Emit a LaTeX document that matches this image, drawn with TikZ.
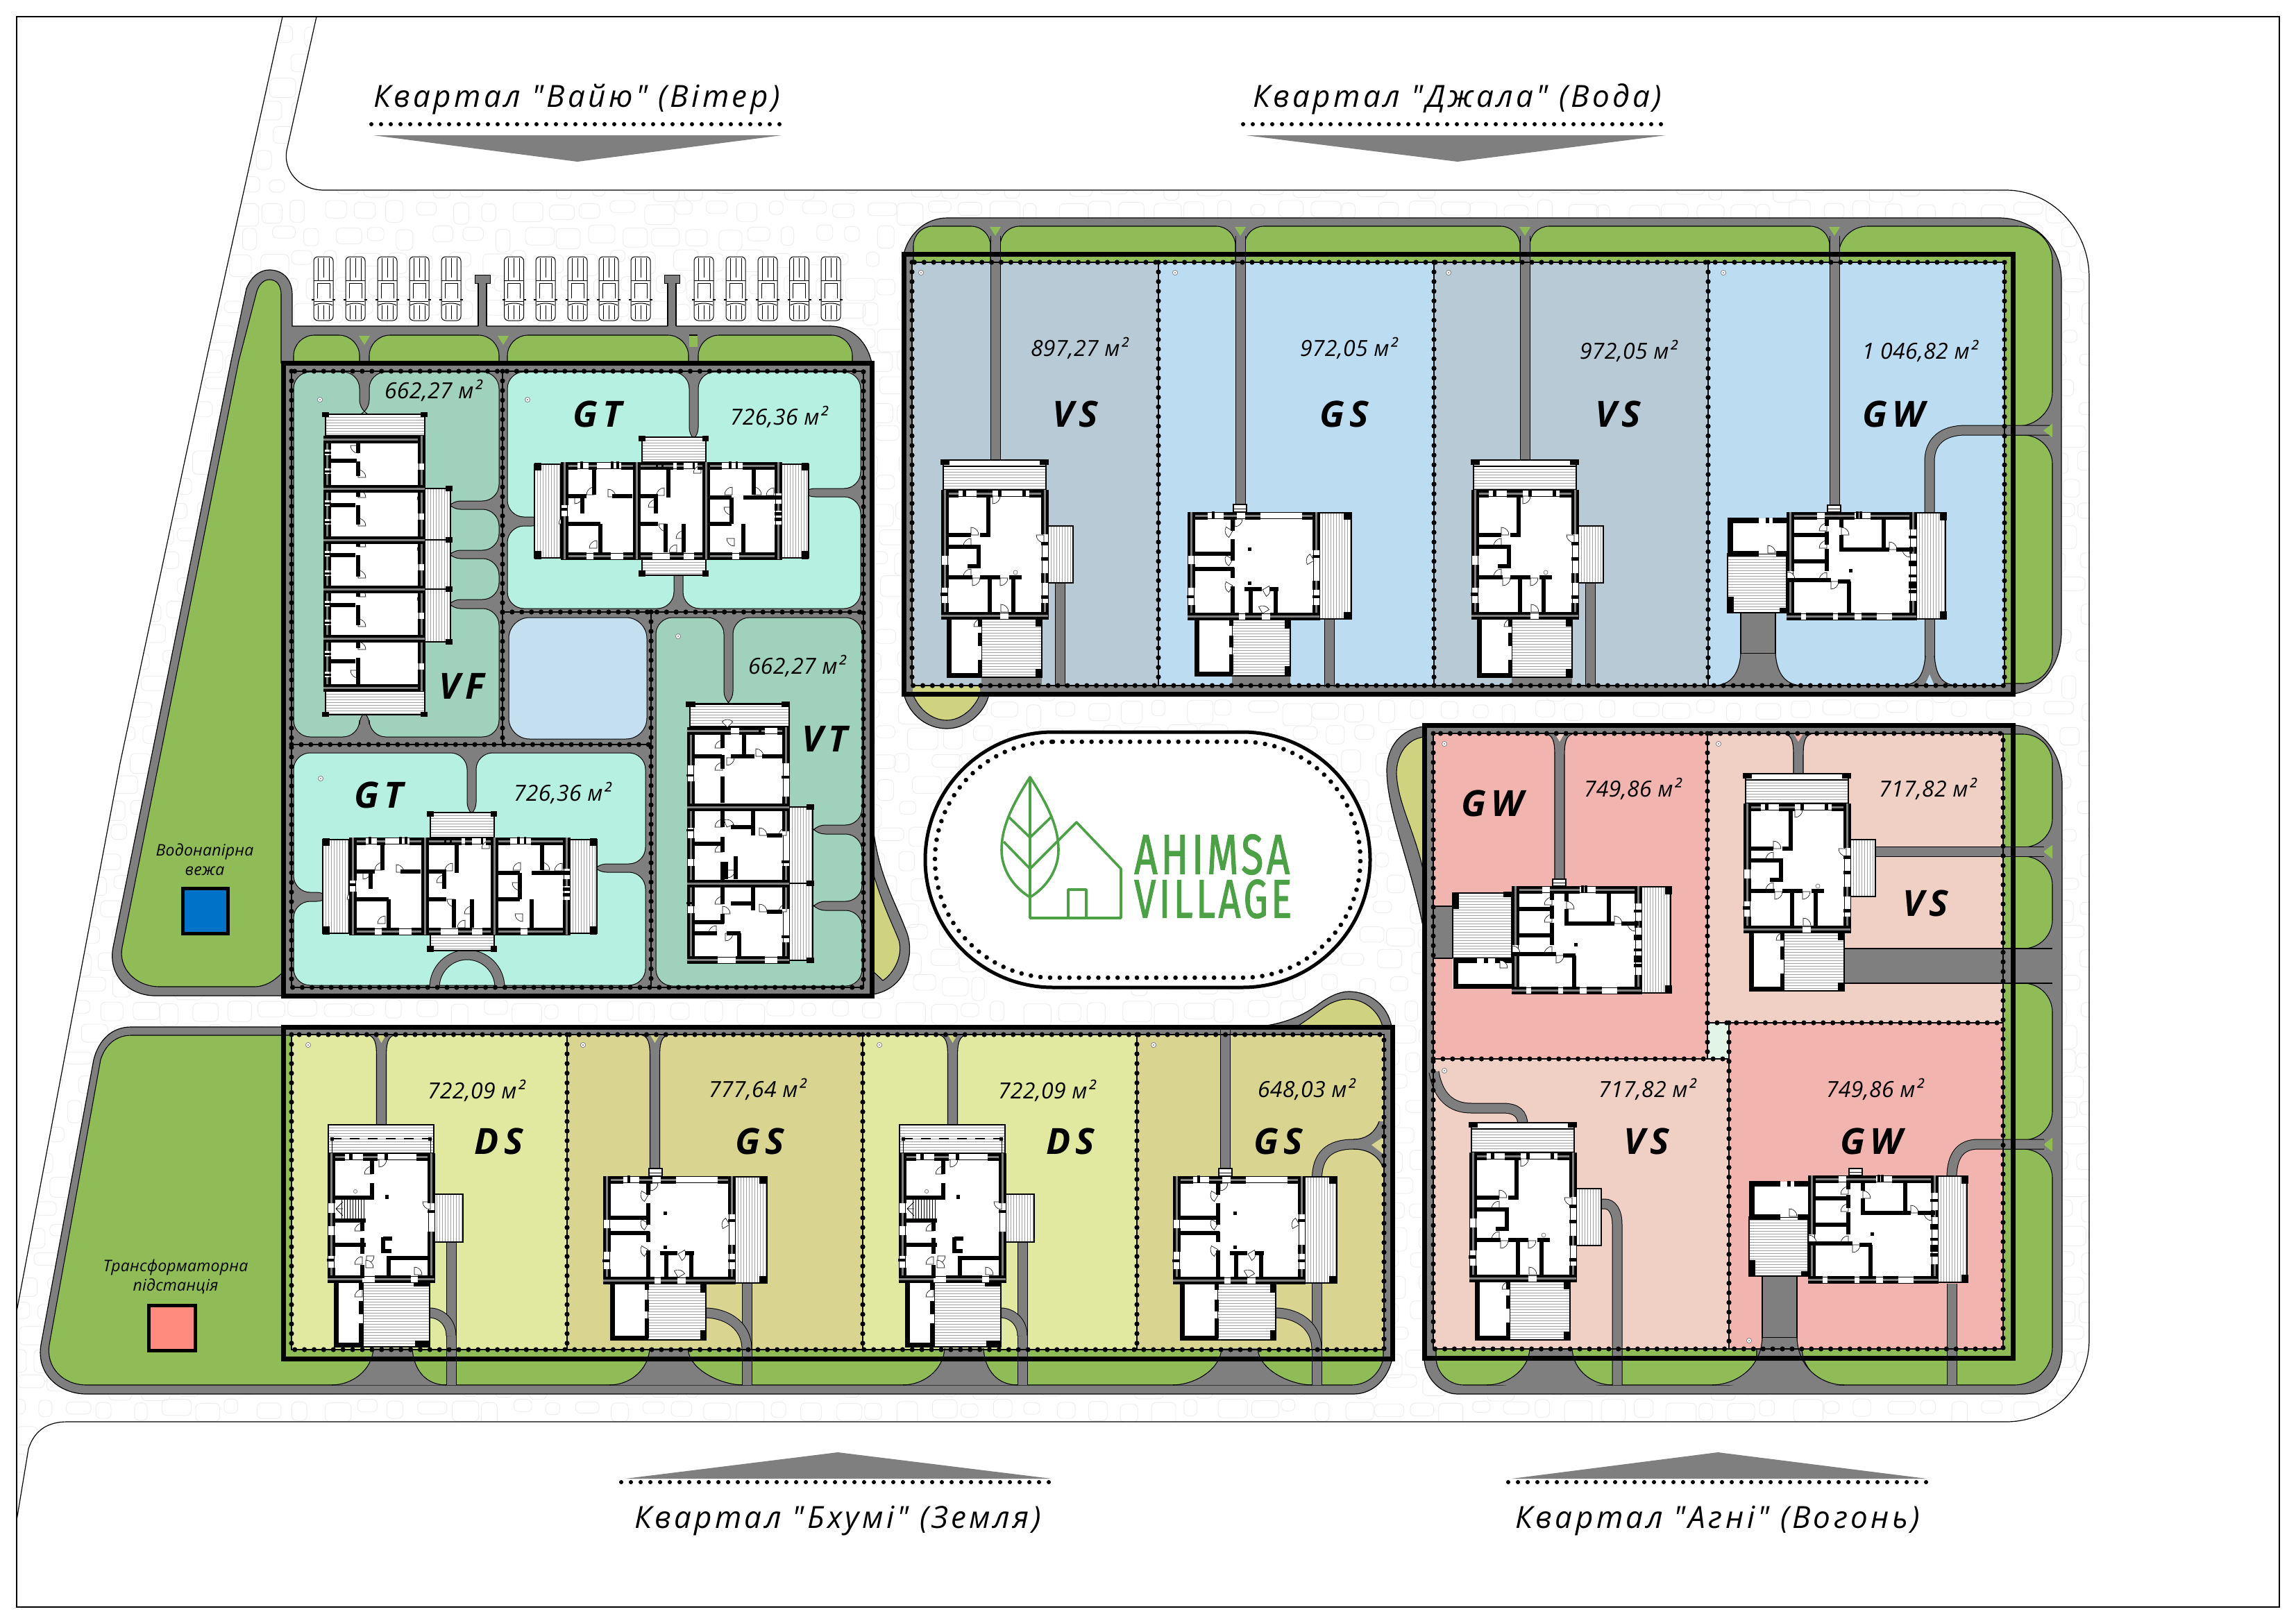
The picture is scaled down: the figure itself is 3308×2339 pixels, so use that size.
\documentclass[tikz,border=0pt]{standalone}
\usepackage{fontspec}
\usepackage{graphicx}
\setmainfont{Open Sans}
\newfontfamily\areaf[LetterSpace=1]{Open Sans}
\newfontfamily\titlef[LetterSpace=10]{Open Sans}
\newfontfamily\codef[LetterSpace=14]{Open Sans}
\newfontfamily\logof[LetterSpace=8,FakeBold=1.6]{Fira Sans}
\definecolor{roadc}{HTML}{7F7F7F}
\definecolor{grassc}{HTML}{8FBC56}
\definecolor{tealD}{HTML}{9FD1BC}
\definecolor{tealL}{HTML}{B5F0E0}
\definecolor{pondc}{HTML}{C4E0F0}
\definecolor{wVS}{HTML}{B8CAD6}
\definecolor{wGS}{HTML}{BCDCF1}
\definecolor{eDS}{HTML}{E0E99F}
\definecolor{eGS}{HTML}{D9D48F}
\definecolor{yelc}{HTML}{CFD27F}
\definecolor{fGW}{HTML}{F2B4AE}
\definecolor{fVS}{HTML}{F0CFC4}
\definecolor{fSQ}{HTML}{E2F4E6}
\definecolor{logoc}{HTML}{4CA146}
\tikzset{
 x=1pt,y=-1pt,
 thinb/.style={draw=black,line width=1.1pt},
 roadst/.style={fill=roadc,draw=black,line width=1.2pt},
 grassst/.style={fill=grassc,draw=black,line width=1.1pt},
 notched/.style={draw=black,line width=1pt,rounded corners=24pt},
 wallin/.style={line width=6pt,draw=black},
 wallout/.style={draw=black,line width=4pt,double=roadc,double distance=3pt},
 thinwin/.style={draw=black,line width=.8pt},
 hatchst/.style={draw=gray!75,line width=.6pt},
 doorst/.style={fill=white,draw=black,line width=.6pt},
 postst/.style={fill=black},
 dotst/.style={draw=black,line width=7.2pt,line cap=round,dash pattern=on 0pt off 13.9pt},
 dotsub/.style={draw=black,line width=1.2pt},
 carst/.style={draw=black,line width=1pt},
 logost/.style={draw=logoc,line width=3.6pt,line join=round},
 area/.style={inner sep=0pt,font=\areaf\itshape\fontsize{32}{38}\selectfont},
 code/.style={inner sep=0pt,font=\codef\bfseries\itshape\fontsize{52}{60}\selectfont},
 ttl/.style={inner sep=0pt,font=\titlef\itshape\fontsize{44}{52}\selectfont},
 small/.style={inner sep=0pt,align=center,font=\areaf\itshape\fontsize{23}{28}\selectfont},
}
\newcommand{\zwl}[1]{\draw[wallin] #1;}
\newcommand{\zow}[1]{\draw[wallout] #1;}
\newcommand{\zrl}[1]{\draw[black,line width=15pt] #1;\draw[roadc,line width=13pt] #1;}
\newcommand{\zdl}[1]{\draw[dotsub] #1;\draw[dotst] #1;}
\newcommand{\zdor}[3]{\filldraw[doorst] (#1,#2) -- ++(#3:11pt) arc[start angle=#3,delta angle=90,radius=11pt] -- cycle;}
\newcommand{\zterh}[4]{\begin{scope}\fill[white] (#1,#2) rectangle (#3,#4);\clip (#1,#2) rectangle (#3,#4);
 \foreach \t in {0,4,...,232}{\draw[hatchst] (#1,#2+\t) -- (#3,#2+\t);}\end{scope}\draw[thinb] (#1,#2) rectangle (#3,#4);}
\newcommand{\zterv}[4]{\begin{scope}\fill[white] (#1,#2) rectangle (#3,#4);\clip (#1,#2) rectangle (#3,#4);
 \foreach \t in {0,4,...,120}{\draw[hatchst] (#1+\t,#2) -- (#1+\t,#4);}\end{scope}\draw[thinb] (#1,#2) rectangle (#3,#4);}
\newcommand{\zpost}[4]{\fill[postst] (#1,#2) rectangle (#3,#4);}
\newcommand{\zshell}[2]{\fill[white] (0,0) rectangle (#1,#2);
 \draw[thinwin] (0,0) rectangle (#1,#2);\draw[thinwin] (9,9) rectangle ({#1-9},{#2-9});}
\newcommand{\zgsec}[5]{\draw[grassst] (#1,#4) [rounded corners=#5pt] -- (#1,#3) -- (#2,#3) [sharp corners] -- (#2,#4) -- cycle;}
\newcommand{\zgright}[4]{\draw[grassst] (#1,#2) [rounded corners=42pt] -- (#3,#2) -- (#3,#4) [sharp corners] -- (#1,#4) -- cycle;}
\newcommand{\zgbot}[5]{\draw[grassst] (#1,#3) [rounded corners=#5pt] -- (#1,#4) -- (#2,#4) [sharp corners] -- (#2,#3) -- cycle;}
\newcommand{\zvtri}[3]{\fill[#3] ({#1-8},#2) -- ({#1+8},#2) -- (#1,{#2+13}) -- cycle;}
\newcommand{\zgtri}[2]{\fill[grassc] (#1,{#2-10}) -- (#1,{#2+10}) -- ({#1-13},#2) -- cycle;}
% flare: x1 x2 xl xr ytop ybot
\newcommand{\zflare}[6]{\fill[roadc] (#1,#5) .. controls (#1-2,#6-20) and (#3+28,#6) .. (#3,#6) -- (#4,#6) .. controls (#4-28,#6) and (#2+2,#6-20) .. (#2,#5) -- cycle;
 \draw[thinb] (#1,#5) .. controls (#1-2,#6-20) and (#3+28,#6) .. (#3,#6);
 \draw[thinb] (#2,#5) .. controls (#2+2,#6-20) and (#4-28,#6) .. (#4,#6);}
% Y drive at top of a plot: cx ytop ybot colour
\newcommand{\zydrive}[4]{\fill[roadc] (#1-24,#2) .. controls (#1-8,#2) and (#1-7,#2+14) .. (#1-7,#2+34) -- (#1-7,#3) -- (#1+7,#3) -- (#1+7,#2+34) .. controls (#1+7,#2+14) and (#1+8,#2) .. (#1+24,#2) -- cycle;
 \draw[thinb] (#1-24,#2) .. controls (#1-8,#2) and (#1-7,#2+14) .. (#1-7,#2+34) -- (#1-7,#3);
 \draw[thinb] (#1+24,#2) .. controls (#1+8,#2) and (#1+7,#2+14) .. (#1+7,#2+34) -- (#1+7,#3);
 \fill[#4] (#1-7,#2) -- (#1+7,#2) -- (#1,#2+12) -- cycle;}
\newcommand{\zwell}[2]{\filldraw[fill=white,draw=gray,line width=.8pt] (#1,#2) circle[radius=3.6pt];\fill[gray] (#1,#2) circle[radius=1.2pt];}
\newcommand{\zcar}[1]{\begin{scope}[shift={(#1,370)}]
 \filldraw[carst,fill=white,rounded corners=6pt] (-14,0) rectangle (14,92);
 \draw[carst] (-8,2)--(-8,34) (8,2)--(8,34) (0,2)--(0,30);
 \draw[carst] (-8,70)--(-8,90) (8,70)--(8,90) (0,70)--(0,90);
 \draw[carst] (-14,34)--(14,34) (-13,64)--(13,64);
 \draw[carst] (-9,38)--(-9,60) (9,38)--(9,60) (-9,38)--(9,38);
 \draw[carst,line width=1.4pt] (-17,62)--(-13,62) (13,62)--(17,62);
 \draw[carst] (-13,70) .. controls (-6,66) and (6,66) .. (13,70);
 \end{scope}}
% ---------- houses ----------
\newcommand{\zbodyVS}{%
 \zshell{154}{186}
 \zdor{43}{65}{0}\zdor{43}{81}{90}\zdor{43}{125}{90}\zdor{45}{127}{270}\zdor{85}{127}{270}\zdor{86}{176}{0}\zdor{148}{65}{180}\zdor{74}{9}{270}
 \zow{(0,5)--(25,5)}\zow{(51,5)--(74,5)}\zow{(127,5)--(154,5)}
 \zow{(5,0)--(5,95)}\zow{(5,108)--(5,141)}\zow{(5,163)--(5,186)}
 \zow{(149,0)--(149,64)}\zow{(149,120)--(149,134)}\zow{(149,163)--(149,186)}
 \zow{(0,181)--(85,181)}\zow{(97,181)--(154,181)}
 \zpost{31}{-1}{36}{10}\zpost{82}{-1}{87}{10}\zpost{117}{-1}{122}{10}
 \zpost{-1}{148}{10}{153}\zpost{144}{75}{155}{80}\zpost{144}{97}{155}{102}\zpost{144}{152}{155}{157}
 \zwl{(68,11)--(68,65)--(56,65)}\zwl{(9,65)--(43,65)}\zwl{(9,82)--(54,82)--(54,110)--(38,110)}
 \zwl{(9,126)--(45,126)}\zwl{(56,126)--(85,126)}\zwl{(70,126)--(70,178)}\zwl{(98,126)--(116,126)}\zwl{(104,126)--(104,178)}
 \filldraw[fill=white,draw=gray,line width=.8pt] (107,119) circle[radius=3pt];}
\newcommand{\zhVS}[2]{\begin{scope}[shift={(#1,#2)}]
 \zterh{3}{-34}{151}{0}
 \fill[white] (3,-43) rectangle (151,-34);\draw[thinb] (3,-43) rectangle (151,-34);
 \draw[thinb] (3,-43) rectangle (151,0);
 \zpost{-1}{-44}{12}{-36}\zpost{142}{-44}{155}{-36}
 \zterv{154}{52}{190}{134}
 \zterh{58}{186}{145}{270}
 \fill[white] (8,186) rectangle (58,270);
 \draw[black,line width=7pt] (11,186)--(11,267)--(58,267);
 \zdor{58}{197}{90}
 \zwl{(56,186)--(56,197)}\zwl{(56,206)--(56,225)}\zwl{(56,245)--(56,268)}
 \zpost{136}{186}{146}{197}\zpost{136}{258}{146}{270}
 \zbodyVS
 \end{scope}}
\newcommand{\zhDS}[2]{\begin{scope}[shift={(#1,#2)}]
 \zterh{1}{-41}{153}{0}
 \draw[black,dash pattern=on 14pt off 12pt,line width=1.4pt] (6,-21)--(148,-21);
 \draw[thinwin] (6,-21)--(6,0) (148,-21)--(148,0);
 \zpost{4}{-23}{9}{-18}\zpost{145}{-23}{150}{-18}
 \zterv{153}{59}{195}{128}
 \zterh{51}{186}{147}{279}
 \fill[white] (9,186) rectangle (51,279);
 \draw[black,line width=7pt] (12,186)--(12,276)--(51,276);
 \zdor{50}{207}{90}
 \zwl{(48,186)--(48,197)}\zwl{(48,213)--(48,232)}\zwl{(48,245)--(48,277)}
 \zpost{124}{186}{146}{192}\zpost{126}{270}{147}{279}
 \zshell{154}{186}
 \zdor{50}{112}{90}\zdor{50}{160}{90}\zdor{64}{30}{90}\zdor{56}{148}{270}\zdor{55}{165}{0}\zdor{125}{175}{0}\zdor{148}{70}{180}\zdor{74}{9}{270}
 \zow{(0,5)--(25,5)}\zow{(51,5)--(72,5)}\zow{(128,5)--(154,5)}
 \zow{(5,0)--(5,72)}\zow{(5,86)--(5,105)}\zow{(5,118)--(5,148)}\zow{(5,165)--(5,186)}
 \zow{(149,0)--(149,72)}\zow{(149,113)--(149,186)}
 \zow{(0,181)--(50,181)}\zow{(68,181)--(120,181)}\zow{(130,181)--(154,181)}
 \zpost{31}{-1}{36}{10}\zpost{82}{-1}{87}{10}
 \zpost{-1}{152}{10}{156}\zpost{144}{82}{155}{86}
 \zwl{(64,9)--(64,30)}\zwl{(64,43)--(64,64)--(8,64)}
 \foreach \t in {20,24,...,52}{\draw[black,line width=1pt] (\t,66)--(\t,94);}
 \draw[thinwin] (12,80)--(22,70) (12,80)--(22,90) (12,80)--(22,80);
 \zwl{(8,97)--(55,97)}\zwl{(50,97)--(50,112)}\zwl{(50,122)--(50,145)}\zwl{(50,161)--(50,180)}\zwl{(8,132)--(55,132)}
 \zwl{(88,148)--(88,178)}\zwl{(88,151)--(146,151)}\zwl{(80,121)--(80,141)--(92,141)}\zwl{(80,123)--(93,123)}
 \zpost{83}{60}{88}{66}
 \filldraw[fill=white,draw=gray,line width=.8pt] (40,55) circle[radius=2.6pt];
 \end{scope}}
\newcommand{\zhGS}[2]{\begin{scope}[shift={(#1,#2)}]
 \fill[white] (66,-11) rectangle (85,0);\draw[thinb] (66,-11) rectangle (85,0);\draw[thinwin] (66,-5)--(85,-5);
 \zterv{190}{1}{236}{154}
 \zpost{225}{0}{236}{11}\zpost{225}{144}{236}{155}
 \zterh{64}{155}{148}{236}
 \fill[white] (10,155) rectangle (64,236);
 \draw[black,line width=7pt] (13,155)--(13,233)--(64,233);
 \zwl{(63,155)--(63,164)}\zwl{(63,178)--(63,195)}\zwl{(63,205)--(63,234)}
 \zpost{140}{155}{149}{168}\zpost{140}{222}{149}{235}
 \zshell{190}{155}
 \zdor{65}{27}{150}\zdor{65}{68}{150}\zdor{65}{106}{150}\zdor{108}{112}{-60}\zdor{108}{146}{30}\zdor{68}{10}{270}\zdor{182}{70}{120}
 \zow{(0,5)--(29,5)}\zow{(52,5)--(71,5)}\zow{(83,5)--(105,5)}\zow{(165,5)--(190,5)}
 \zow{(5,0)--(5,63)}\zow{(5,75)--(5,109)}\zow{(5,134)--(5,155)}
 \zow{(185,0)--(185,55)}\zow{(185,99)--(185,112)}\zow{(185,134)--(185,155)}
 \zow{(0,150)--(74,150)}\zow{(83,150)--(107,150)}\zow{(119,150)--(190,150)}
 \zpost{35}{-1}{39}{10}\zpost{-1}{120}{10}{124}\zpost{180}{62}{191}{66}\zpost{180}{120}{191}{124}
 \zwl{(9,60)--(65,60)}\zwl{(9,82)--(67,82)}
 \zwl{(65,10)--(65,27)}\zwl{(65,39)--(65,70)}\zwl{(65,80)--(65,95)}\zwl{(65,107)--(65,146)}
 \zwl{(91,111)--(91,146)}\zwl{(82,111)--(107,111)}\zwl{(118,111)--(131,111)}\zwl{(127,111)--(127,146)}
 \zpost{87}{51}{92}{56}\zpost{87}{100}{92}{105}
 \end{scope}}
\newcommand{\zbodyGW}{%
 \zshell{187}{155}
 \zdor{58}{27}{90}\zdor{58}{52}{90}\zdor{58}{98}{90}\zdor{64}{100}{270}\zdor{79}{33}{0}\zdor{148}{54}{0}\zdor{178}{54}{180}\zdor{1}{97}{0}
 \zow{(0,5)--(44,5)}\zow{(55,5)--(98,5)}\zow{(121,5)--(187,5)}
 \zow{(5,0)--(5,85)}\zow{(5,98)--(5,155)}
 \zow{(182,0)--(182,25)}\zow{(182,50)--(182,60)}\zow{(182,128)--(182,155)}
 \zow{(0,150)--(21,150)}\zow{(28,150)--(67,150)}\zow{(74,150)--(98,150)}\zow{(108,150)--(130,150)}\zow{(152,150)--(187,150)}
 \zpost{100}{-1}{104}{10}\zpost{105}{-1}{109}{10}
 \zpost{176}{34}{188}{38}\zpost{176}{70}{188}{78}\zpost{176}{90}{188}{94}\zpost{176}{100}{188}{110}\zpost{176}{112}{188}{117}
 \zwl{(10,33)--(58,33)}\zwl{(10,71)--(58,71)}\zwl{(58,8)--(58,20)}\zwl{(58,28)--(58,47)}\zwl{(58,53)--(58,85)}
 \zwl{(1,98)--(64,98)}\zwl{(74,100)--(92,100)}\zwl{(90,100)--(90,146)}
 \zwl{(79,8)--(79,22)}\zwl{(79,33)--(79,54)--(148,54)}\zwl{(158,54)--(183,54)}\zwl{(140,8)--(140,54)}
 \zpost{90}{82}{95}{87}
 \fill[white] (59,-10) rectangle (78,0);\draw[thinb] (59,-10) rectangle (78,0);\draw[thinwin] (59,-5)--(78,-5);}
\newcommand{\zGWright}{\zterv{187}{1}{229}{154}\zpost{221}{0}{231}{12}\zpost{221}{143}{231}{155}}
\newcommand{\zhGW}[2]{\begin{scope}[shift={(#1,#2)}]
 \zGWright
 \zterh{-85}{60}{0}{145}
 \fill[white] (-85,9) rectangle (0,60);
 \draw[black,line width=8pt] (-40,60)--(-81,60)--(-81,12)--(-40,12);
 \draw[black,line width=8pt] (-30,12)--(-25,12) (-20,12)--(0,12) (-15,60)--(0,60);
 \zdor{-27}{59}{0}
 \zpost{-85}{122}{-76}{145}\zpost{-10}{138}{0}{146}
 \zbodyGW
 \end{scope}}
\newcommand{\zhGWf}[2]{\begin{scope}[shift={(#1,#2)}]
 \zGWright
 \zterh{-85}{10}{0}{104}
 \fill[white] (-85,104) rectangle (0,147);
 \draw[black,line width=7pt] (-50,107)--(-81,107)--(-81,144)--(0,144);
 \draw[black,line width=7pt] (-40,107)--(-34,107) (-24,107)--(0,107);
 \zdor{-17}{118}{0}
 \zpost{-85}{10}{-76}{33}\zpost{-12}{8}{0}{16}
 \zbodyGW
 \end{scope}}
\newcommand{\zhVF}[2]{\begin{scope}[shift={(#1,#2)}]
 \zterh{3}{-31}{146}{0}\zpost{-2}{-34}{8}{-27}\zpost{140}{-34}{150}{-27}
 \draw[black,line width=2.4pt] (3,-31)--(146,-31);
 \zterh{3}{368}{146}{402}\zpost{-2}{398}{8}{405}\zpost{140}{398}{150}{405}
 \draw[black,line width=2.4pt] (3,402)--(146,402);
 \zterv{146}{76}{183}{297}
 \foreach \t in {76,150,221,297}{\draw[black,line width=2.6pt] (146,\t)--(183,\t);\zpost{176}{\t-4}{186}{\t+4}}
 \zshell{146}{368}
 \zdor{50}{14}{180}\zdor{50}{60}{0}\zdor{50}{89}{0}\zdor{50}{130}{0}\zdor{50}{160}{0}\zdor{50}{205}{0}\zdor{50}{232}{0}\zdor{50}{275}{0}\zdor{50}{308}{0}\zdor{50}{338}{180}
 \zdor{146}{92}{90}\zdor{146}{165}{90}\zdor{146}{237}{90}
 \zow{(5,0)--(5,368)}\zow{(0,5)--(146,5)}\zow{(0,363)--(146,363)}
 \zow{(141,0)--(141,368)}
 \foreach \t in {76,150,221,292}{\zow{(0,\t)--(146,\t)}}
 \foreach \t in {20,47,93,120,166,194,238,265,310,340}{\fill[white] (1,\t) rectangle (11,\t+8);\draw[thinwin] (1,\t) -- (1,\t+8) (9,\t)--(9,\t+8);\zpost{0}{\t+3}{11}{\t+6}}
 \foreach \t in {40,112,185,255,328}{\fill[white] (136,\t) rectangle (146,\t+9);\draw[thinwin] (137,\t)--(137,\t+9) (145,\t)--(145,\t+9);}
 \zwl{(50,10)--(50,25)}\zwl{(50,37)--(50,58)}\zwl{(10,36)--(48,36)}
 \zwl{(50,80)--(50,88)}\zwl{(50,100)--(50,128)}\zwl{(10,100)--(46,100)}
 \zwl{(50,154)--(50,160)}\zwl{(50,172)--(50,203)}\zwl{(10,172)--(46,172)}
 \zwl{(50,226)--(50,232)}\zwl{(50,244)--(50,273)}\zwl{(10,244)--(46,244)}
 \zwl{(50,297)--(50,306)}\zwl{(50,320)--(50,360)}\zwl{(10,325)--(46,325)}
 \end{scope}}
\newcommand{\zhGT}[2]{\begin{scope}[shift={(#1,#2)}]
 \zterh{155}{-36}{247}{0}\zpost{150}{-38}{160}{-30}\zpost{242}{-38}{251}{-30}\draw[black,line width=2pt](155,-36)--(247,-36);
 \zterh{155}{140}{247}{163}\zpost{150}{156}{160}{165}\zpost{242}{156}{251}{165}\draw[black,line width=2pt](155,163)--(247,163);
 \zterv{0}{3}{38}{138}\zpost{0}{1}{10}{12}\zpost{0}{128}{10}{140}\draw[black,line width=1.6pt](0,3)--(38,3) (0,138)--(38,138);
 \zterv{356}{3}{395}{138}\zpost{385}{1}{395}{12}\zpost{385}{128}{395}{140}\draw[black,line width=1.6pt](356,3)--(395,3) (356,138)--(395,138);
 \begin{scope}[shift={(38,0)}]\zshell{318}{140}\end{scope}
 \zdor{86}{47}{90}\zdor{106}{50}{0}\zdor{90}{124}{90}\zdor{46}{89}{90}\zdor{58}{49}{270}
 \zdor{187}{48}{90}\zdor{175}{65}{90}\zdor{190}{89}{180}\zdor{215}{110}{90}\zdor{205}{130}{90}\zdor{240}{16}{90}
 \zdor{285}{47}{90}\zdor{316}{47}{0}\zdor{284}{65}{180}\zdor{288}{110}{180}\zdor{345}{48}{90}
 \zow{(38,5)--(62,5)}\zow{(78,5)--(90,5)}\zow{(125,5)--(147,5)}\zow{(150,5)--(200,5)}\zow{(205,5)--(215,5)}\zow{(235,5)--(270,5)}\zow{(300,5)--(356,5)}
 \zow{(38,135)--(75,135)}\zow{(85,135)--(110,135)}\zow{(128,135)--(170,135)}\zow{(195,135)--(215,135)}\zow{(230,135)--(285,135)}\zow{(295,135)--(356,135)}
 \zow{(43,0)--(43,62)}\zow{(43,78)--(43,140)}
 \zow{(351,0)--(351,45)}\zow{(351,60)--(351,70)}\zow{(351,90)--(351,140)}
 \zow{(147,0)--(147,140)}\zow{(247,0)--(247,140)}
 \zpost{66}{-1}{70}{10}\zpost{110}{-1}{114}{10}\zpost{118}{-1}{122}{10}\zpost{175}{-1}{178}{10}\zpost{183}{-1}{186}{10}\zpost{228}{-1}{231}{10}\zpost{280}{-1}{284}{10}\zpost{290}{-1}{293}{10}
 \zpost{38}{66}{48}{70}\zpost{346}{72}{357}{77}\zpost{346}{80}{357}{85}
 \zwl{(86,7)--(86,47)}\zwl{(46,49)--(75,49)}\zwl{(112,49)--(141,49)}\zwl{(46,89)--(95,89)}\zwl{(95,89)--(95,130)}\zwl{(69,49)--(69,74)}
 \zwl{(193,11)--(193,51)}\zwl{(152,49)--(178,49)}\zwl{(175,49)--(175,74)}\zwl{(152,89)--(178,89)}\zwl{(189,89)--(189,130)}\zwl{(215,89)--(215,130)}
 \zwl{(316,7)--(316,47)}\zwl{(253,51)--(284,51)}\zwl{(301,51)--(356,51)}\zwl{(284,51)--(284,89)}\zwl{(253,89)--(284,89)}\zwl{(301,89)--(301,130)}
 \end{scope}}
\newcommand{\zhVT}[2]{\begin{scope}[shift={(#1,#2)}]
 \zterh{4}{-34}{147}{-1}\draw[black,line width=3pt](0,-34)--(147,-34);
 \zpost{-2}{-37}{12}{-29}\zpost{136}{-37}{148}{-29}
 \zterv{147}{115}{181}{336}\draw[black,line width=2.6pt](147,115)--(181,115) (147,225)--(181,225) (147,336)--(181,336);
 \zpost{172}{111}{183}{119}\zpost{172}{221}{183}{229}\zpost{172}{332}{183}{340}
 \zshell{147}{340}
 \zdor{51}{30}{90}\zdor{51}{62}{90}\zdor{57}{44}{270}\zdor{99}{42}{0}\zdor{58}{0}{45}
 \zdor{51}{144}{90}\zdor{51}{180}{90}\zdor{57}{144}{20}\zdor{104}{156}{0}\zdor{143}{156}{90}\zdor{58}{206}{270}
 \zdor{51}{255}{90}\zdor{51}{269}{0}\zdor{42}{297}{90}\zdor{55}{297}{270}\zdor{104}{266}{0}\zdor{143}{266}{90}
 \zow{(5,0)--(5,55)}\zow{(5,78)--(5,115)}\zow{(5,115)--(5,145)}\zow{(5,160)--(5,190)}\zow{(5,200)--(5,258)}\zow{(5,268)--(5,340)}
 \zow{(0,5)--(63,5)}\zow{(75,5)--(112,5)}\zow{(130,5)--(147,5)}
 \zow{(142,0)--(142,52)}\zow{(142,100)--(142,150)}\zow{(142,200)--(142,262)}\zow{(142,310)--(142,340)}
 \zow{(0,335)--(44,335)}\zow{(70,335)--(112,335)}\zow{(130,335)--(147,335)}
 \zow{(0,115)--(147,115)}\zow{(0,225)--(147,225)}
 \zpost{103}{-1}{107}{10}\zpost{-1}{68}{10}{71}\zpost{-1}{147}{10}{150}\zpost{-1}{252}{10}{255}\zpost{136}{70}{148}{74}\zpost{136}{192}{148}{196}\zpost{136}{300}{148}{304}
 \zwl{(51,10)--(51,30)}\zwl{(51,40)--(51,60)}\zwl{(51,71)--(51,109)}\zwl{(10,42)--(50,42)}\zwl{(63,42)--(97,42)}\zwl{(108,42)--(137,42)}\zwl{(82,10)--(82,40)}
 \zwl{(51,120)--(51,144)}\zwl{(51,158)--(51,180)}\zwl{(51,194)--(51,221)}\zwl{(10,168)--(50,168)}\zwl{(63,144)--(95,144)}\zwl{(95,120)--(95,156)}\zwl{(115,156)--(137,156)}\zwl{(70,186)--(70,219)}\zwl{(56,194)--(56,219)}
 \zwl{(51,231)--(51,255)}\zwl{(51,269)--(51,283)}\zwl{(10,281)--(53,281)}\zwl{(10,297)--(43,297)}\zwl{(57,297)--(77,297)}\zwl{(75,297)--(75,330)}\zwl{(63,254)--(95,254)}\zwl{(95,231)--(95,264)}\zwl{(115,266)--(137,266)}
 \end{scope}}
\begin{document}
\begin{tikzpicture}
\useasboundingbox (0,0) rectangle (3308,2339);
\fill[white] (0,0) rectangle (3308,2339);
% paved area with stones
\def\zpaved{(407,24) -- (456,24) -- (413,217) .. controls (408,245) and (430,274) .. (467,274) -- (2890,274) .. controls (2955,274) and (3010,330) .. (3010,400) -- (3010,1930) .. controls (3010,2000) and (2955,2049) .. (2890,2049) -- (97,2049) .. controls (70,2049) and (50,2060) .. (41,2088) -- (24,2191) -- (24,1890) -- (173,1100) -- (297,520) -- cycle}
\begin{scope}
\clip \zpaved;
\pgfmathsetseed{11}
\foreach \i in {0,...,65}{\foreach \j in {0,...,58}{
 \pgfmathsetmacro{\xa}{\i*46+mod(\j,2)*18+rnd*10}
 \pgfmathsetmacro{\ya}{\j*36+rnd*8}
 \pgfmathsetmacro{\wa}{18+rnd*26}
 \pgfmathsetmacro{\ha}{16+rnd*18}
 \draw[gray!14,line width=.9pt,rounded corners=7pt] (\xa,\ya) rectangle (\xa+\wa,\ya+\ha);
}}
\end{scope}
\draw[black,line width=1.2pt] \zpaved;
% ---- titles
\node[ttl] (t1) at (831,143) {Квартал "Вайю" (Вітер)};
\node[ttl] (t2) at (2100,143) {Квартал "Джала" (Вода)};
\node[ttl] (t3) at (1207,2192) {Квартал "Бхумі" (Земля)};
\node[ttl] (t4) at (2475,2192) {Квартал "Агні" (Вогонь)};
\foreach \a/\b/\c in {535/1131/179,1791/2407/179,895/1519/2136,2173/2781/2136}{
 \draw[draw=black,line width=6pt,dash pattern=on 0pt off 14pt,line cap=round] (\a,\c)--(\b,\c);}
\fill[roadc] (538,195) -- (1126,195) -- (832,233) -- cycle;
\fill[roadc] (1795,195) -- (2400,195) -- (2100,233) -- cycle;
\fill[roadc] (901,2131) -- (1515,2131) -- (1207,2093) -- cycle;
\fill[roadc] (2178,2131) -- (2776,2131) -- (2475,2093) -- cycle;
% ---- blobs
\draw[roadst] (1302,1000) .. controls (1310,1030) and (1335,1050) .. (1364,1050) .. controls (1395,1050) and (1420,1025) .. (1425,1000) -- cycle;
\draw[roadst] (1258,1192) .. controls (1265,1260) and (1290,1300) .. (1305,1340) .. controls (1320,1375) and (1305,1425) .. (1258,1433) -- cycle;
\draw[thinb,fill=yelc] (1258,1258) .. controls (1270,1300) and (1285,1330) .. (1295,1355) .. controls (1302,1380) and (1285,1405) .. (1272,1413) -- (1258,1400) -- cycle;
\draw[roadst] (2052,1047) .. controls (2020,1050) and (1998,1075) .. (1998,1110) .. controls (1998,1170) and (2035,1250) .. (2052,1345) -- cycle;
\draw[thinb,fill=yelc] (2052,1062) .. controls (2025,1065) and (2012,1090) .. (2012,1115) .. controls (2014,1160) and (2040,1200) .. (2052,1262) -- cycle;
\draw[roadst] (1807,1480) .. controls (1850,1477) and (1880,1462) .. (1900,1447) .. controls (1915,1436) and (1930,1429) .. (1943,1429) .. controls (1975,1429) and (2000,1450) .. (2005,1480) -- cycle;
\draw[thinb,fill=yelc] (1867,1480) .. controls (1885,1470) and (1905,1452) .. (1917,1446) .. controls (1928,1441) and (1935,1440) .. (1943,1440) .. controls (1968,1440) and (1988,1460) .. (1992,1480) -- cycle;
% ================ WATER block
\draw[roadst] (1302,1000) -- (1302,366) .. controls (1310,335) and (1335,314) .. (1365,314) -- (2880,314) .. controls (2930,314) and (2970,354) .. (2970,404) -- (2970,910) .. controls (2970,960) and (2940,995) .. (2900,1000) -- cycle;
\zgsec{1316}{1427}{326}{378}{28}
\zgsec{1441}{1780}{326}{378}{28}
\zgsec{1793}{2190}{326}{378}{28}
\zgsec{2204}{2636}{326}{378}{28}
\draw[grassst] (2649,378) [rounded corners=42pt] -- (2649,326) [rounded corners=50pt] -- (2957,326) -- (2957,614) [sharp corners] -- (2886,614) -- (2886,378) -- cycle;
\zgright{2886}{627}{2957}{985}
\zvtri{1434}{327}{grassc}\zvtri{1787}{327}{grassc}\zvtri{2197}{327}{grassc}\zvtri{2643}{327}{grassc}
\fill[wVS] (1314,378) rectangle (1669,988);
\fill[wGS] (1669,378) rectangle (2066,988);
\fill[wVS] (2066,378) rectangle (2461,988);
\fill[wGS] (2461,378) rectangle (2888,988);
\fill[yelc] (1315,989) rectangle (1412,1000);
\draw[thinb,fill=yelc] (1315,1000) .. controls (1325,1025) and (1345,1038) .. (1364,1038) .. controls (1385,1038) and (1405,1020) .. (1412,1000) -- cycle;
\zrl{(1434,340)--(1434,665)}\zrl{(1527,838)--(1527,990)}
\zrl{(1787,340)--(1787,730)}\zrl{(1915,890)--(1915,990)}
\zrl{(2197,340)--(2197,665)}\zrl{(2291,838)--(2291,990)}
\zrl{(2643,340)--(2643,730)}
\zrl{(2780,742)--(2780,665) .. controls (2780,635) and (2800,620) .. (2832,620) -- (2954,620)}
\zgtri{2957}{620.5}
\zrl{(2780,890)--(2780,955)}
\zflare{2774}{2787}{2738}{2822}{945}{988}
\fill[wGS] (2773,988) -- (2787,988) -- (2780,972) -- cycle;
\fill[roadc] (1414,973) rectangle (1501,990);\fill[roadc] (1775,973) rectangle (1859,990);\fill[roadc] (2178,973) rectangle (2265,990);
\fill[roadc] (2508,880) rectangle (2558,942);\draw[thinb] (2508,880)--(2508,942)--(2558,942)--(2558,880);
\zflare{2508}{2558}{2468}{2598}{942}{988}
\zhVS{1356}{706}\zhGS{1711}{738}\zhVS{2120}{706}\zhGW{2574}{738}
\zwell{1327}{393}\zwell{1693}{393}\zwell{2087}{393}\zwell{2483}{393}
\zdl{(1314,378) rectangle (2888,988)}\zdl{(1669,378)--(1669,988)}\zdl{(2066,378)--(2066,988)}\zdl{(2461,378)--(2461,988)}
\draw[black,line width=7pt] (1302,366) rectangle (2900,1000);
% ================ WIND block
\draw[roadst] (408,1435) -- (224,1435) .. controls (185,1435) and (155,1405) .. (163,1365) -- (333,520) -- (355,416) .. controls (362,398) and (375,389) .. (388,389) .. controls (407,389) and (421,402) .. (421,425) -- (421,470) -- (1195,470) .. controls (1230,470) and (1250,495) .. (1256,523) -- (1256,1435) -- cycle;
\draw[grassst] (408,1400) .. controls (395,1415) and (380,1422) .. (367,1422) -- (230,1422) .. controls (195,1422) and (170,1395) .. (176,1365) -- (344,520) -- (370,420) .. controls (373,410) and (380,403) .. (388,403) .. controls (398,403) and (405,410) .. (405,425) -- (405,523) -- (408,523) -- cycle;
\draw[black,line width=1pt,fill=roadc] (684,396) rectangle (706,408);
\fill[roadc] (689,404) rectangle (701,472);\draw[thinb] (689,408)--(689,470) (701,408)--(701,470);
\draw[black,line width=1pt,fill=roadc] (957,396) rectangle (979,408);
\fill[roadc] (962,404) rectangle (974,472);\draw[thinb] (962,408)--(962,470) (974,408)--(974,470);
\foreach \c in {466,512,558,604,650,740.5,786,832,877,923,1014,1060,1106,1151.5,1197}{\zcar{\c}}
\zgsec{423}{518}{483}{523}{30}
\zgsec{532}{719}{483}{523}{30}
\zgsec{731}{992}{483}{523}{30}
\zgsec{1006}{1228}{483}{523}{30}
\zvtri{525}{484}{grassc}\zvtri{725}{484}{grassc}
\fill[grassc] (993,483) rectangle (1005,500);\draw[thinb] (993,483)--(1005,483);
\draw[notched,fill=tealD] (570,536) -- (532,536) -- (532,600) -- (518,600) -- (518,536) -- (423,536) -- (423,1062) -- (518,1062) -- (518,1020) -- (532,1020) -- (532,1062) -- (719,1062) -- (719,877) -- (640,877) -- (640,864) -- (719,864) -- (719,805) -- (640,805) -- (640,793) -- (719,793) -- (719,734) -- (640,734) -- (640,722) -- (719,722) -- (719,536) -- cycle;
\draw[notched,fill=tealL] (850,536) -- (993,536) -- (993,640) -- (1006,640) -- (1006,536) -- (1240,536) -- (1240,704) -- (1150,704) -- (1150,716) -- (1240,716) -- (1240,877) -- (984,877) -- (984,800) -- (971,800) -- (971,877) -- (731,877) -- (731,758) -- (790,758) -- (790,745) -- (731,745) -- (731,536) -- cycle;
\draw[notched,rounded corners=30pt,fill=pondc] (733,890) rectangle (932,1065);
\draw[notched,fill=tealD] (1000,890) -- (1043,890) -- (1043,1020) -- (1056,1020) -- (1056,890) -- (1242,890) -- (1242,1189) -- (1165,1189) -- (1165,1202) -- (1242,1202) -- (1242,1299) -- (1165,1299) -- (1165,1312) -- (1242,1312) -- (1242,1421) -- (945,1421) -- (945,890) -- cycle;
\draw[notched,fill=tealL] (550,1085) -- (673,1085) -- (673,1180) -- (686,1180) -- (686,1085) -- (930,1085) -- (930,1245) -- (850,1245) -- (850,1257) -- (930,1257) -- (930,1420) -- (423,1420) -- (423,1299) -- (480,1299) -- (480,1286) -- (423,1286) -- (423,1085) -- cycle;
\zrl{(626,1423) arc[start angle=180,end angle=0,radius=47pt]}
\zhVF{466}{628}\zhGT{770}{666}\zhGT{465}{1207}\zhVT{990}{1048}
\zwell{461}{576}\zwell{760}{576}\zwell{977}{917}\zwell{462}{1122}
\zdl{(420,535) rectangle (1244,1423)}
\zdl{(724,535)--(724,1073)}\zdl{(420,1073)--(938,1073)}\zdl{(724,882)--(1244,882)}\zdl{(938,882)--(938,1423)}
\draw[black,line width=7pt] (408,523) rectangle (1256,1435);
\draw[black,line width=5pt,fill=white] (1517,1055) -- (1790,1055) arc[start angle=90,end angle=-90,radius=184pt] -- (1517,1423) arc[start angle=270,end angle=90,radius=184pt] -- cycle;
\draw[black,line width=6.6pt,line cap=round,dash pattern=on 0pt off 13.9pt] (1517,1069) -- (1790,1069) arc[start angle=90,end angle=-90,radius=170pt] -- (1517,1409) arc[start angle=270,end angle=90,radius=170pt] -- cycle;
% logo
\draw[logost] (1484,1120) .. controls (1455,1165) and (1443,1195) .. (1443,1225) .. controls (1443,1255) and (1462,1280) .. (1484,1293) .. controls (1506,1280) and (1525,1255) .. (1525,1225) .. controls (1525,1195) and (1513,1165) .. (1484,1120) -- cycle;
\draw[logost] (1484,1120) -- (1484,1323) -- (1615,1323) -- (1615,1252) -- (1551,1185) -- (1484,1252) -- (1446,1213);
\draw[logost] (1453,1177) -- (1484,1207) -- (1515,1177);
\draw[logost] (1539,1323) -- (1539,1282) -- (1565,1282) -- (1565,1323);
\node[inner sep=0pt,text=logoc,anchor=west] (la) at (1634,1231.5) {\resizebox{224pt}{57pt}{\logof AHIMSA}};
\node[inner sep=0pt,text=logoc,anchor=west] (lv) at (1634,1295.5) {\resizebox{227pt}{55pt}{\logof VILLAGE}};
% ================ EARTH block
\draw[roadst] (408,1480) -- (189,1480) .. controls (160,1480) and (142,1500) .. (135,1527) -- (59,1938) .. controls (52,1980) and (85,2009) .. (125,2009) -- (1950,2009) .. controls (1980,2009) and (2000,1985) .. (2006,1958) -- (2006,1480) -- cycle;
\draw[grassst] (408,1492) -- (189,1492) .. controls (168,1492) and (152,1505) .. (145,1527) -- (71,1938) .. controls (66,1970) and (90,1996) .. (125,1996) -- (1947,1996) .. controls (1970,1996) and (1988,1980) .. (1993,1958) -- (1993,1945) -- (420,1945) -- (420,1492) -- cycle;
\fill[eDS] (420,1491) rectangle (817,1945);
\fill[eGS] (817,1491) rectangle (1243,1945);
\fill[eDS] (1243,1491) rectangle (1638,1945);
\fill[eGS] (1638,1491) rectangle (1994,1945);
\zydrive{549.5}{1491}{1625}{yelc}
\zydrive{943.5}{1491}{1690}{yelc}
\zydrive{1372.5}{1491}{1625}{yelc}
\zrl{(1765.5,1484)--(1765.5,1688)}
\zrl{(650,1790)--(650,1996)}\zrl{(1076,1848)--(1076,1996)}\zrl{(1473,1790)--(1473,1996)}\zrl{(1897.5,1849)--(1897.5,1996)}
\zrl{(619,1892) .. controls (635,1892) and (650,1905) .. (650,1925)}
\zrl{(1016,1892) .. controls (1040,1892) and (1076,1905) .. (1076,1945)}
\zrl{(1442,1892) .. controls (1458,1892) and (1473,1905) .. (1473,1925)}
\zrl{(1838,1892) .. controls (1862,1892) and (1897,1905) .. (1897,1945)}
\zrl{(1897.5,1700) .. controls (1897,1665) and (1915,1649) .. (1950,1649) -- (1985,1649)}
\fill[roadc] (1987,1616) .. controls (1980,1635) and (1965,1642) .. (1950,1642) -- (1950,1656) .. controls (1970,1656) and (1985,1665) .. (1992,1681) -- (1994,1681) -- (1994,1616) -- cycle;
\draw[thinb] (1987,1616) .. controls (1980,1635) and (1965,1642) .. (1950,1642);
\draw[thinb] (1992,1681) .. controls (1985,1665) and (1970,1656) .. (1950,1656);
\fill[eGS] (1994,1638) -- (1994,1664) -- (1976,1650) -- cycle;
\zflare{538}{594}{478}{643}{1943}{1996}
\zflare{936}{991}{878}{1070}{1943}{1996}
\zflare{1361}{1417}{1301}{1466}{1943}{1996}
\zflare{1760}{1812}{1690}{1890}{1943}{1996}
\zhDS{472}{1662}\zhGS{869}{1695}\zhDS{1295}{1662}\zhGS{1690}{1695}
\zwell{444}{1506}\zwell{840}{1506}\zwell{1267}{1506}\zwell{1662}{1506}
\zdl{(420,1491) rectangle (1994,1945)}\zdl{(817,1491)--(817,1945)}\zdl{(1243,1491)--(1243,1945)}\zdl{(1638,1491)--(1638,1945)}
\draw[black,line width=7pt] (408,1480) rectangle (2006,1958);
% ================ FIRE block
\draw[roadst] (2052,1045) -- (2899,1045) .. controls (2940,1045) and (2971,1085) .. (2971,1130) -- (2971,1945) .. controls (2971,1980) and (2950,2009) .. (2915,2009) -- (2100,2009) .. controls (2075,2009) and (2052,1985) .. (2052,1957) -- cycle;
\zgright{2886}{1058}{2957}{1221}
\zgright{2886}{1234}{2957}{1367}
\zgright{2886}{1417}{2957}{1643}
\draw[grassst] (2886,1656) [rounded corners=42pt] -- (2957,1656) [rounded corners=55pt] -- (2957,1996) -- (2596,1996) [sharp corners] -- (2596,1944) -- (2886,1944) -- cycle;
\zgbot{2069}{2204}{1944}{1996}{40}
\zgbot{2265}{2531}{1944}{1996}{40}
\zgtri{2957}{1227.5}\zgtri{2957}{1649.5}
\fill[fGW] (2065,1057) rectangle (2460,1526);
\fill[fVS] (2460,1057) rectangle (2886,1474);
\fill[fSQ] (2460,1474) rectangle (2491,1526);
\fill[fVS] (2065,1526) rectangle (2491,1944);
\fill[fGW] (2491,1474) rectangle (2886,1944);
\zydrive{2247}{1057}{1270}{fVS}
\zydrive{2591}{1057}{1118}{fGW}
\zrl{(2700,1227.5)--(2945,1227.5)}
\fill[roadc] (2657,1367) rectangle (2958,1417);\draw[thinb] (2657,1367)--(2957,1367) (2657,1417)--(2957,1417);
\fill[roadc] (2066,1306) rectangle (2095,1381);\draw[thinb] (2066,1306)--(2095,1306) (2066,1381)--(2095,1381);
\zrl{(2066,1545) .. controls (2072,1580) and (2090,1597) .. (2120,1597) -- (2165,1597) .. controls (2185,1597) and (2194,1605) .. (2194,1622)}
\zrl{(2305,1735) -- (2312,1735) .. controls (2322,1735) and (2330,1745) .. (2330,1765) -- (2330,1996)}
\zrl{(2812,1697) .. controls (2812,1665) and (2825,1649) .. (2850,1649) -- (2945,1649)}
\zrl{(2812,1850)--(2812,1996)}
\fill[roadc] (2539,1838) rectangle (2589,1930);\draw[thinb] (2539,1838)--(2539,1930) (2589,1838)--(2589,1930) (2539,1928)--(2589,1928);
\zflare{2539}{2589}{2467}{2657}{1928}{1996}
\zflare{2204}{2265}{2142}{2323}{1944}{1996}
\zhGWf{2178}{1277}\zhVS{2512}{1158}\zhVS{2117}{1661}\zhGW{2605}{1694}
\zwell{2081}{1072}\zwell{2476}{1072}\zwell{2081}{1543}\zwell{2520}{1932}
\zdl{(2065,1057) rectangle (2886,1944)}\zdl{(2460,1057)--(2460,1526)}\zdl{(2065,1526)--(2491,1526)}\zdl{(2491,1474)--(2491,1944)}\zdl{(2460,1474)--(2886,1474)}
\draw[black,line width=7pt] (2052,1045) rectangle (2900,1957);
% ---- service squares
\draw[black,line width=5pt,fill={rgb,255:red,0;green,115;blue,200}] (263,1280) rectangle (328,1345);
\draw[black,line width=5pt,fill={rgb,255:red,255;green,138;blue,125}] (214,1881) rectangle (281,1946);
\node[small] (s1) at (295,1239) {Водонапірна\\вежа};
\node[small] (s2) at (253,1840) {Трансформаторна\\підстанція};
% ---- areas
\node[area] (a1) at (1555,502) {897,27 м²};
\node[area] (a2) at (1943,502) {972,05 м²};
\node[area] (a3) at (2346,506) {972,05 м²};
\node[area] (a4) at (2766,506) {1 046,82 м²};
\node[area] (a5) at (624,563) {662,27 м²};
\node[area] (a6) at (1122,601) {726,36 м²};
\node[area] (a7) at (1148,960) {662,27 м²};
\node[area] (a8) at (810,1143) {726,36 м²};
\node[area] (a9) at (686,1572) {722,09 м²};
\node[area] (a10) at (1091,1570) {777,64 м²};
\node[area] (a11) at (1508,1572) {722,09 м²};
\node[area] (a12) at (1882,1570) {648,03 м²};
\node[area] (a13) at (2352,1137) {749,86 м²};
\node[area] (a14) at (2777,1137) {717,82 м²};
\node[area] (a15) at (2373,1570) {717,82 м²};
\node[area] (a16) at (2701,1570) {749,86 м²};
% ---- codes
\node[code] (c1) at (1549,597) {VS};
\node[code] (c2) at (1937,597) {GS};
\node[code] (c3) at (2331,597) {VS};
\node[code] (c4) at (2728,597) {GW};
\node[code] (c5) at (861,597) {GT};
\node[code] (c6) at (665,989) {VF};
\node[code] (c7) at (1188,1065) {VT};
\node[code] (c8) at (546,1146) {GT};
\node[code] (c9) at (719,1645) {DS};
\node[code] (c10) at (1095,1645) {GS};
\node[code] (c11) at (1542,1645) {DS};
\node[code] (c12) at (1842,1645) {GS};
\node[code] (c13) at (2150,1158) {GW};
\node[code] (c14) at (2774,1302) {VS};
\node[code] (c15) at (2372,1645) {VS};
\node[code] (c16) at (2696,1645) {GW};
% frame
\draw[black,line width=2.2pt] (24,24) rectangle (3284,2316);
\end{tikzpicture}
\end{document}
